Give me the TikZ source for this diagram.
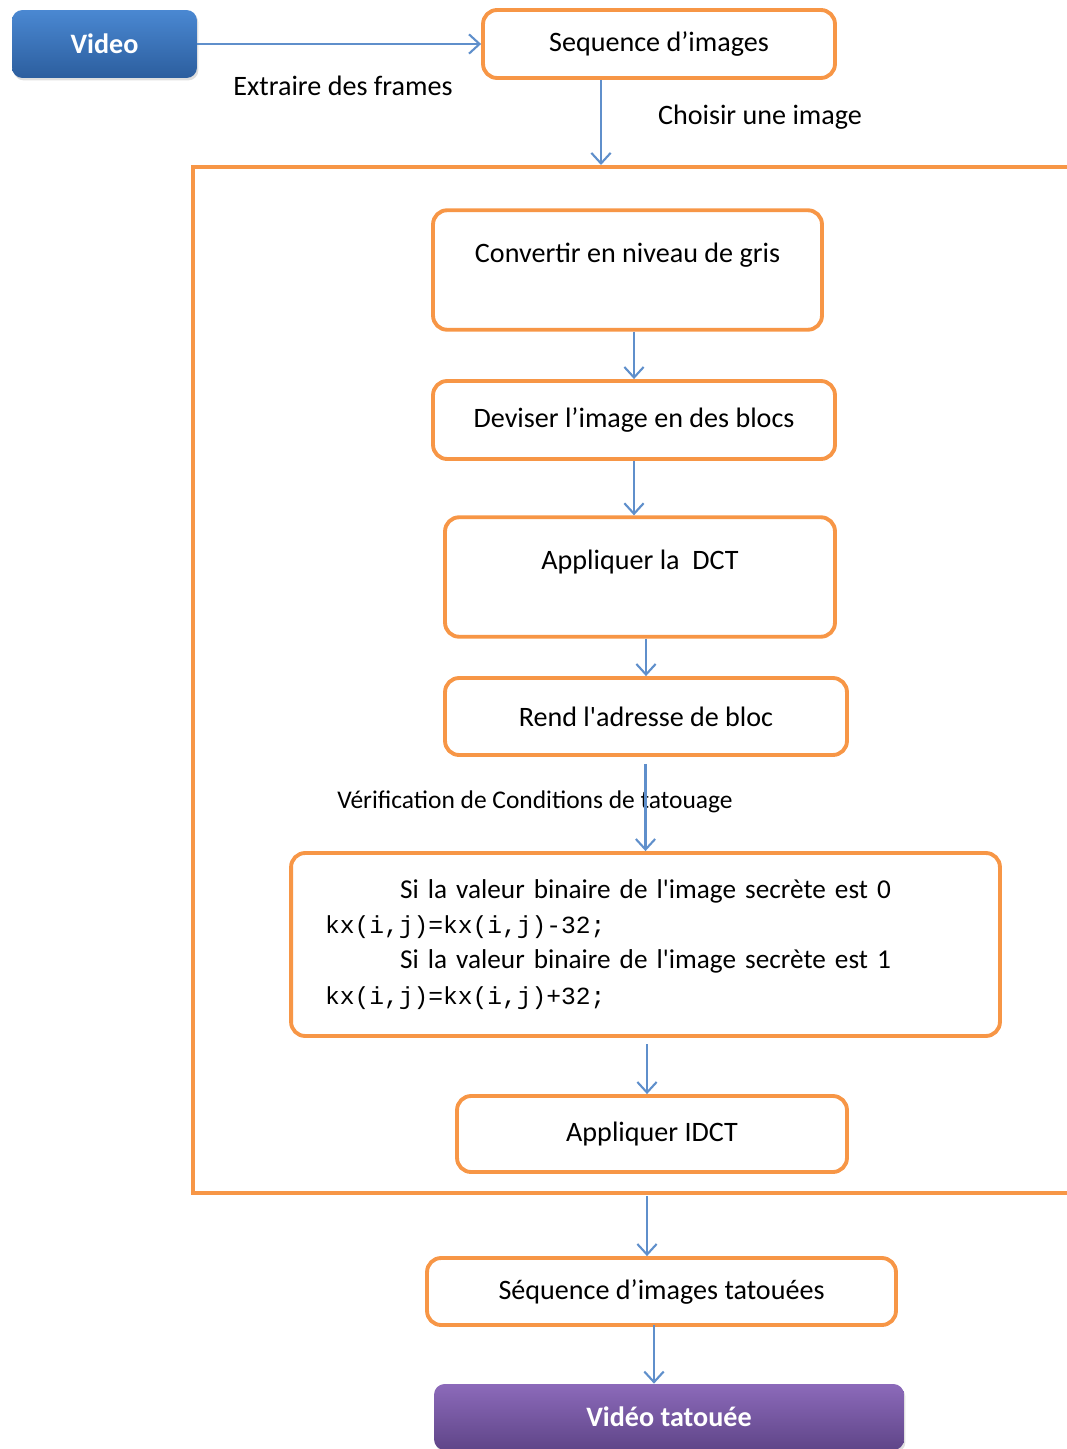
\documentclass[tikz,border=0pt]{standalone}
\usepackage{fontspec}
\setmainfont{Carlito}
\setmonofont{Liberation Mono}
\usetikzlibrary{arrows.meta,positioning,shadows}
\definecolor{boxorange}{HTML}{F79646}
\definecolor{flowblue}{HTML}{5F8FCB}
\definecolor{vidtop}{HTML}{4A88D2}
\definecolor{vidbot}{HTML}{2C5E9E}
\definecolor{purtop}{HTML}{8C6ABA}
\definecolor{purbot}{HTML}{5F4588}
\tikzset{>={Straight Barb[length=6pt,width=11pt]}}
\tikzset{
  obox/.style={draw=boxorange, line width=2.2pt, rounded corners=8pt, fill=white,
    align=center, font=\fontsize{16}{19}\selectfont},
  tallbox/.style={obox, inner ysep=0pt, text height=30pt, text depth=38pt},
  solidbox/.style={rounded corners=6pt, text=white, font=\bfseries\fontsize{16}{19}\selectfont,
    drop shadow={opacity=0.25, shadow xshift=0.03cm, shadow yshift=-0.05cm}},
  lbl/.style={align=center, font=\fontsize{16}{19}\selectfont},
  flow/.style={->, draw=flowblue, line width=1.2pt}
}

\begin{document}
\begin{tikzpicture}[x=0.02cm, y=-0.02cm]
\useasboundingbox (0,0) rectangle (1066,1449);
\node[solidbox, minimum width=3.7cm, minimum height=1.36cm, top color=vidtop, bottom color=vidbot] (vid) at (104.5,44) {Video};
\node[obox, minimum width=7.04cm, minimum height=1.36cm] (seq) at (659,44) {Sequence d’images};
\node[lbl] (ext) at (343,86) {Extraire des frames};
\node[lbl] (chois) at (760,117) {Choisir une image};
\coordinate (top) at (601,165);
\draw[boxorange, line width=2.8pt] (1075,167) -- (193,167) -- (193,1193) -- (1075,1193);
\node[tallbox, minimum width=7.78cm] (gris) at (627.5,270) {Convertir en niveau de gris};
\node[obox, minimum width=8.04cm, minimum height=1.56cm] (blocs) at (634,420) {Deviser l’image en des blocs};
\node[tallbox, minimum width=7.8cm] (dct) at (640,577) {Appliquer la~ DCT};
\node[obox, minimum width=8.04cm, minimum height=1.54cm] (adr) at (646,716.5) {Rend l\textquotesingle adresse de bloc};
\node[lbl, font=\fontsize{14.5}{17}\selectfont] (verif) at (535,802) {Vérification de Conditions de tatouage};
\node[obox, align=left, text width=12.82cm, inner xsep=0.68cm, minimum height=3.66cm,
  font=\fontsize{15.5}{20}\selectfont] (cond) at (645.5,944.5)
  {\hspace*{1.5cm}Si la valeur binaire de l\textquotesingle image secrète est 0\\
   {\ttfamily\fontsize{14}{20}\selectfont kx(i,j)=kx(i,j)-32;}\\
   \hspace*{1.5cm}Si la valeur binaire de l\textquotesingle image secrète est 1\\
   {\ttfamily\fontsize{14}{20}\selectfont kx(i,j)=kx(i,j)+32;}};
\coordinate (mid) at (647,1044);
\node[obox, minimum width=7.8cm, minimum height=1.52cm] (idct) at (652,1134) {Appliquer IDCT};
\coordinate (bot) at (647,1196);
\node[obox, minimum width=9.38cm, minimum height=1.34cm] (seqt) at (661.5,1291.5) {Séquence d’images tatouées};
\coordinate (low) at (654,1325);
\node[solidbox, minimum width=9.4cm, minimum height=1.32cm, top color=purtop, bottom color=purbot] (vidt) at (669,1417) {Vidéo tatouée};
\begin{scope}[flow]
\draw (vid) to (seq);
\draw (seq.south -| top) to (top);
\draw (gris.south -| blocs.north) to (blocs.north);
\draw (blocs.south) to (blocs.south |- dct.north);
\draw (dct.south -| adr.north) to (adr.north);
\draw[shorten <=4pt] (adr.south -| cond.north) to (cond.north);
\draw (mid) to (mid |- idct.north);
\draw (bot) to (bot |- seqt.north);
\draw (low) to (low |- vidt.north);
\end{scope}
%\draw[help lines, step=50] (0,0) grid (1066,1449);
\end{tikzpicture}
\end{document}
